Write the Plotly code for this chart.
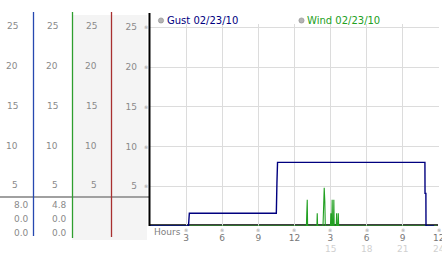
import plotly.graph_objects as go

# ---------------- data ----------------
gust_hours = [0, 3.20, 3.27, 10.50, 10.55, 10.60, 22.85, 22.86, 22.93, 22.94, 23.62]
gust_values = [0, 0, 1.6, 1.6, 5.4, 8.0, 8.0, 4.1, 4.1, 0, 0]

wind_hours = [0, 13.00, 13.03, 13.07, 13.10, 13.87, 13.90, 13.93,
              14.38, 14.40, 14.48, 14.53, 14.57,
              15.00, 15.03, 15.06, 15.11, 15.14, 15.17, 15.25, 15.28, 15.31,
              15.48, 15.51, 15.54, 15.62, 15.65, 15.68, 23.85]
wind_values = [0, 0, 1.6, 3.3, 0, 0, 1.6, 0,
               0, 2.4, 4.8, 3.1, 0,
               0, 1.6, 0, 0, 3.3, 0, 0, 3.3, 0,
               0, 1.6, 0, 0, 1.6, 0, 0]

y_ticks = [5, 10, 15, 20, 25]
x_ticks = [3, 6, 9, 12, 15, 18, 21, 24]
x_tick_labels = ["3", "6", "9", "12", "3", "6", "9", "12"]
x_ticks_row2 = [15, 18, 21, 24]
x_tick_labels_row2 = ["15", "18", "21", "24"]

gust_stats = ["8.0", "0.0", "0.0"]
wind_stats = ["4.8", "0.0", "0.0"]
legend_labels = ["Gust 02/23/10", "Wind 02/23/10"]
x_title = "Hours"

# ---------------- styling ----------------
W, H = 442, 253
FONT = "DejaVu Sans"
NAVY = "#00007f"
GREEN = "#22a022"


def px(x):
    return x / W


def py(y):
    return 1 - y / H


fig = go.Figure()
fig.add_trace(go.Scatter(x=wind_hours, y=wind_values, mode="lines",
                         line=dict(color=GREEN, width=1.1), hoverinfo="skip",
                         showlegend=False))
fig.add_trace(go.Scatter(x=gust_hours, y=gust_values, mode="lines",
                         line=dict(color=NAVY, width=1.4), hoverinfo="skip",
                         showlegend=False))

shapes = []
# grey background for columns 3 and 4 of the left panel
shapes.append(dict(type="rect", xref="paper", yref="paper",
                   x0=px(72), x1=px(147), y0=py(240), y1=py(15),
                   fillcolor="#f4f4f4", line=dict(width=0), layer="below"))
# horizontal separator in left panel
shapes.append(dict(type="line", xref="paper", yref="paper",
                   x0=0, x1=px(149), y0=py(197), y1=py(197),
                   line=dict(color="#a0a0a0", width=2)))
# coloured column separators
for xx, yb, col in [(33.5, 236, "#2648b0"), (72.5, 238, "#2e9e2e"), (111.5, 237, "#a83030")]:
    shapes.append(dict(type="line", xref="paper", yref="paper",
                       x0=px(xx), x1=px(xx), y0=py(yb), y1=py(12),
                       line=dict(color=col, width=1.3)))
# black frame lines
shapes.append(dict(type="line", xref="paper", yref="paper",
                   x0=px(149.5), x1=px(149.5), y0=py(226), y1=py(13),
                   line=dict(color="black", width=2)))
shapes.append(dict(type="line", xref="paper", yref="paper",
                   x0=px(149), x1=px(438), y0=py(225), y1=py(225),
                   line=dict(color="black", width=1.3), layer="between"))
# legend circles
for cx in [161, 301.5]:
    shapes.append(dict(type="circle", xref="paper", yref="paper",
                       x0=px(cx - 2.6), x1=px(cx + 2.6), y0=py(20.5 + 2.6), y1=py(20.5 - 2.6),
                       fillcolor="#b4b4b4", line=dict(color="#8c8c8c", width=0.6)))

ann = []
# legend texts
for xl, txt, col in [(164.5, legend_labels[0], NAVY), (305, legend_labels[1], GREEN)]:
    ann.append(dict(x=px(xl), y=py(20.5), xref="paper", yref="paper", text=txt,
                    showarrow=False, xanchor="left", yanchor="middle",
                    font=dict(family=FONT, size=10, color=col)))
# left columns tick labels
for xr in [19.5, 59.5, 98.5]:
    for v in y_ticks:
        ann.append(dict(x=px(xr), y=v, xref="paper", yref="y", text=str(v),
                        showarrow=False, xanchor="right", yanchor="middle", yshift=1,
                        font=dict(family=FONT, size=9, color="#8a8a8a")))
# small tick glyphs on y axis
for v in y_ticks:
    ann.append(dict(x=px(145.5), y=v, xref="paper", yref="y", text="※",
                    showarrow=False, xanchor="center", yanchor="middle",
                    font=dict(family=FONT, size=5, color="#9a9a9a")))
# small tick glyphs on x axis
for h in x_ticks:
    ann.append(dict(x=h, y=py(229.5), xref="x", yref="paper", text="※",
                    showarrow=False, xanchor="center", yanchor="middle",
                    font=dict(family=FONT, size=5, color="#9a9a9a")))
# second row of hour labels
for h, t in zip(x_ticks_row2, x_tick_labels_row2):
    ann.append(dict(x=h, y=py(248.5), xref="x", yref="paper", text=t,
                    showarrow=False, xanchor="center", yanchor="middle",
                    font=dict(family=FONT, size=9, color="#d0d0d0")))
# axis title
ann.append(dict(x=px(152), y=py(232), xref="paper", yref="paper", text=x_title,
                showarrow=False, xanchor="left", yanchor="middle",
                font=dict(family=FONT, size=9, color="#808080")))
# stats
for i, (g, w) in enumerate(zip(gust_stats, wind_stats)):
    yy = [205, 219, 233][i]
    ann.append(dict(x=px(30.5), y=py(yy), xref="paper", yref="paper", text=g,
                    showarrow=False, xanchor="right", yanchor="middle",
                    font=dict(family=FONT, size=9, color="#8a8a8a")))
    ann.append(dict(x=px(68.5), y=py(yy), xref="paper", yref="paper", text=w,
                    showarrow=False, xanchor="right", yanchor="middle",
                    font=dict(family=FONT, size=9, color="#8a8a8a")))

fig.update_layout(
    width=W, height=H,
    margin=dict(l=0, r=0, t=0, b=0, autoexpand=False),
    paper_bgcolor="white", plot_bgcolor="white",
    font=dict(family=FONT, size=9, color="#888"),
    showlegend=False,
    xaxis=dict(domain=[px(150), px(439)], range=[0, 24.02],
               tickvals=x_ticks, ticktext=x_tick_labels,
               showgrid=True, gridcolor="#dcdcdc", gridwidth=1,
               zeroline=False, showline=False, ticks="",
               ticklabelstandoff=5, ticklabeloverflow="allow", automargin=False,
               tickfont=dict(family=FONT, size=9, color="#777")),
    yaxis=dict(domain=[py(226), py(24)], range=[0, 25.41],
               tickvals=y_ticks, ticktext=[str(v) for v in y_ticks],
               showgrid=True, gridcolor="#dcdcdc", gridwidth=1,
               zeroline=False, showline=False, ticks="",
               ticklabelstandoff=12, automargin=False,
               tickfont=dict(family=FONT, size=9, color="#8a8a8a")),
    shapes=shapes,
    annotations=ann,
)

fig.write_html("out.html", config={"displayModeBar": False})
